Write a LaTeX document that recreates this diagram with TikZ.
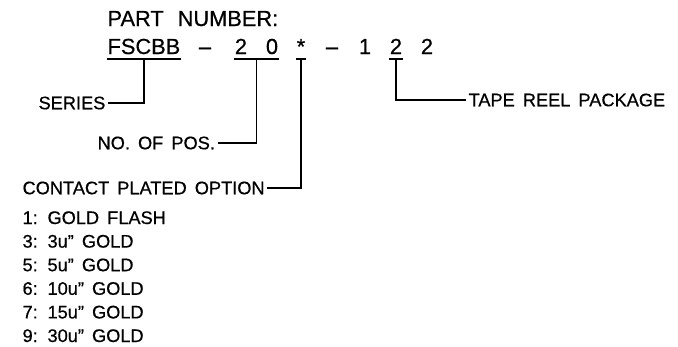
\documentclass[tikz,border=0pt]{standalone}
\usepackage{fontspec}
\setmainfont{Liberation Sans}[WordSpace=1.6, FakeBold=0.6]
\usetikzlibrary{calc, positioning}

\begin{document}
\begin{tikzpicture}[x=1pt, y=-1pt, line width=1.2pt,
		pn/.style={inner sep=0pt, anchor=base, font=\fontsize{21.8}{24}\selectfont},
		lbl/.style={inner xsep=2pt, inner ysep=0pt, anchor=west, font=\fontsize{18.2}{20}\selectfont}]
			\useasboundingbox (0,0) rectangle (678,346);
			
			\node [pn, anchor=base west] (title) at (107,26) {PART\hspace{14pt}NUMBER:};
			\node [pn, anchor=base west] (ser) at (107,54) {FSCBB};
			\node [pn] (dasha) at (205,54) {–};
			\node [pn] (n2) at (241,54) {2};
			\node [pn] (n0) at (272,54) {0};
			\node [pn] (star) at (301,54) {*};
			\node [pn] (dashb) at (332,54) {–};
			\node [pn] (one) at (365,54) {1};
			\node [pn] (t2) at (396,54) {2};
			\node [pn] (t2b) at (427,54) {2};
			
			% underlines
			\draw ([yshift=-5pt]ser.base west) -- ([yshift=-5pt]ser.base east);
			\draw ([yshift=-5pt]n2.base west) -- ([yshift=-5pt]n0.base east);
			\draw ([yshift=-5pt]star.base west) -- ([yshift=-5pt]star.base east);
			\draw ([yshift=-5pt]t2.base west) -- ([yshift=-5pt]t2.base east);
			
			\coordinate (serU) at ([yshift=-5pt]ser.base);
			\coordinate (posU) at ($(n2.base)!0.5!(n0.base) + (0,5)$);
			\coordinate (optU) at ([yshift=-5pt]star.base);
			\coordinate (tapeU) at ([yshift=-5pt]t2.base);
			
			\node [lbl] (series) at (36,103) {SERIES};
			\node [lbl] (pos) at (95,143) {NO. OF POS.};
			\node [lbl] (contact) at (20,188) {CONTACT PLATED OPTION};
			\node [lbl] (tape) at (466,100) {TAPE REEL PACKAGE};
			
			\draw (serU) |- (series.east);
			\draw (posU) |- (pos.east);
			\draw (optU) |- (contact.east);
			\draw (tapeU) |- (tape.west);
			
			\foreach \code/\txt [count=\i] in {1/GOLD FLASH, 3/3u” GOLD, 5/5u” GOLD, 6/10u” GOLD, 7/15u” GOLD, 9/30u” GOLD}{
				\node [lbl, inner xsep=0pt, anchor=base west] (opt\i) at (22,{224+(\i-1)*23.6}) {\code: \txt};
			}
		\end{tikzpicture}
\end{document}
